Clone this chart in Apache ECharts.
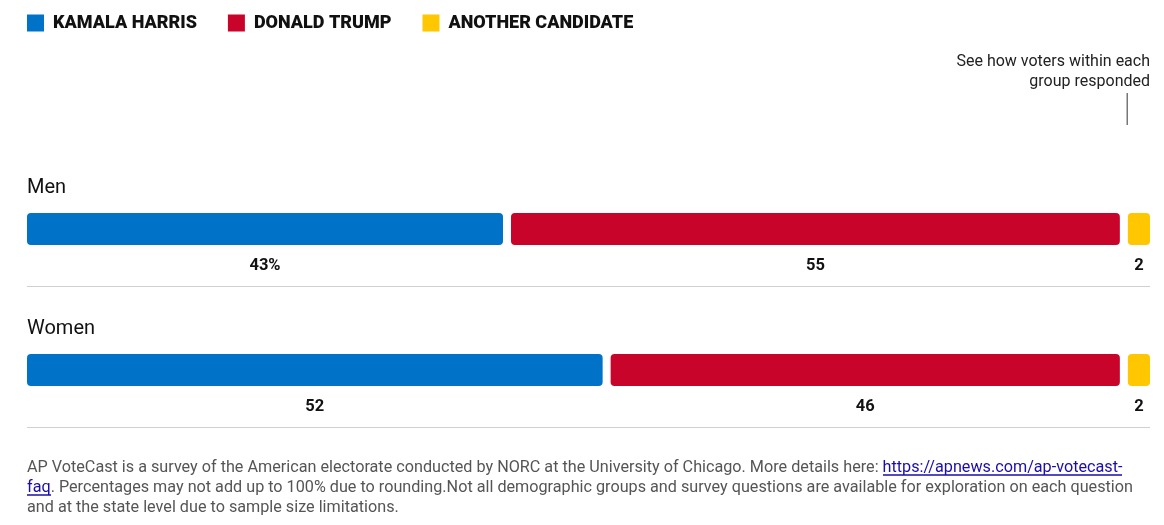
<!DOCTYPE html>
<html>
<head>
<meta charset="utf-8">
<script src="https://cdn.jsdelivr.net/npm/echarts@6/dist/echarts.min.js"></script>
<style>
html,body{margin:0;padding:0;background:#fff;}
#chart{width:1164px;height:525px;}
</style>
</head>
<body>
<div id="chart"></div>
<script>
// ---- data ----
const groups = ['Men', 'Women'];
const harris = [43, 52];
const trump = [55, 46];
const other = [2, 2];
const seriesNames = ['KAMALA HARRIS', 'DONALD TRUMP', 'ANOTHER CANDIDATE'];
const annotationLines = ['See how voters within each', 'group responded'];
const footLine1a = 'AP VoteCast is a survey of the American electorate conducted by NORC at the University of Chicago. More details here: ';
const footLink1 = 'https://apnews.com/ap-votecast-';
const footLink2 = 'faq';
const footLine2b = '. Percentages may not add up to 100% due to rounding.Not all demographic groups and survey questions are available for exploration on each question';
const footLine3 = 'and at the state level due to sample size limitations.';

// ---- style ----
const COLORS = ['#0073C8', '#C8042A', '#FFC700'];
const GAP = 0.723; // visual gap between segments, in value units
const FONT = 'Roboto, "Noto Sans", sans-serif';

const chart = echarts.init(document.getElementById('chart'), null, {renderer: 'canvas'});

const totals = groups.map((g, i) => harris[i] + trump[i] + other[i]);
const xMax = Math.max.apply(null, totals) + 2 * GAP;

function labelCfg(suffixFirst) {
  return {
    show: true,
    position: 'bottom',
    distance: 12,
    color: '#111',
    fontFamily: FONT,
    fontWeight: 'bold',
    fontSize: 16.5,
    formatter: function (p) { return p.value + (suffixFirst && p.dataIndex === 0 ? '%' : ''); }
  };
}
const radius = 4;
function barSeries(name, data, color, withPct) {
  return {
    name: name, type: 'bar', stack: 'all', data: data, barWidth: 32,
    itemStyle: {color: color, borderRadius: radius},
    label: labelCfg(withPct),
    emphasis: {disabled: true},
    silent: true
  };
}
function gapSeries() {
  return {
    type: 'bar', stack: 'all', data: groups.map(() => GAP), barWidth: 32,
    itemStyle: {color: 'rgba(0,0,0,0)'}, silent: true, label: {show: false},
    emphasis: {disabled: true}, legendHoverLink: false
  };
}

const option = {
  animation: false,
  legend: {
    data: seriesNames,
    left: 27, top: 14, padding: 0,
    itemWidth: 17, itemHeight: 17, itemGap: 31,
    icon: 'rect',
    selectedMode: false,
    textStyle: {fontFamily: FONT, fontWeight: 900, fontSize: 18, color: '#111', padding: [0, 0, 0, 4]}
  },
  grid: {left: 27, right: 14, top: 158.5, bottom: 84.5, containLabel: false},
  xAxis: {type: 'value', min: 0, max: xMax, show: false},
  yAxis: {type: 'category', data: groups, inverse: true, show: false},
  series: [
    barSeries(seriesNames[0], harris, COLORS[0], true),
    gapSeries(),
    barSeries(seriesNames[1], trump, COLORS[1], false),
    gapSeries(),
    barSeries(seriesNames[2], other, COLORS[2], false)
  ]
};
chart.setOption(option);

// underline image for link text
function underlineImg() {
  const c = document.createElement('canvas');
  c.width = 2; c.height = 40;
  const ctx = c.getContext('2d');
  ctx.fillStyle = '#1a0dab';
  ctx.fillRect(0, 36, 2, 3);
  return c;
}
const ul = underlineImg();

const gr = [];
groups.forEach(function (g) {
  const cy = chart.convertToPixel({yAxisIndex: 0}, g);
  gr.push({
    type: 'text', left: 27, top: cy - 51,
    style: {text: g, fontFamily: FONT, fontSize: 20, fill: '#111'}
  });
  gr.push({
    type: 'rect', shape: {x: 27, y: Math.round(cy + 57), width: 1123, height: 1},
    style: {fill: '#d0d0d0'}
  });
});
// annotation (right-aligned lines)
annotationLines.forEach(function (t, i) {
  gr.push({
    type: 'text', x: 1150, y: 54 + i * 20,
    style: {text: t, align: 'right', verticalAlign: 'top', fontFamily: FONT, fontSize: 16, fill: '#222'}
  });
});
gr.push({type: 'rect', shape: {x: 1126.5, y: 93, width: 1.5, height: 32}, style: {fill: '#777'}});
// footer
gr.push({
  type: 'text', left: 27, top: 458,
  style: {
    text: footLine1a + '{a|' + footLink1 + '}\n{a|' + footLink2 + '}' + footLine2b + '\n' + footLine3,
    fontFamily: FONT, fontSize: 16.2, lineHeight: 20, fill: '#555',
    rich: {a: {fill: '#1a0dab', fontFamily: FONT, fontSize: 16.2, lineHeight: 20, backgroundColor: {image: ul}}}
  }
});
chart.setOption({graphic: gr});
</script>
</body>
</html>
